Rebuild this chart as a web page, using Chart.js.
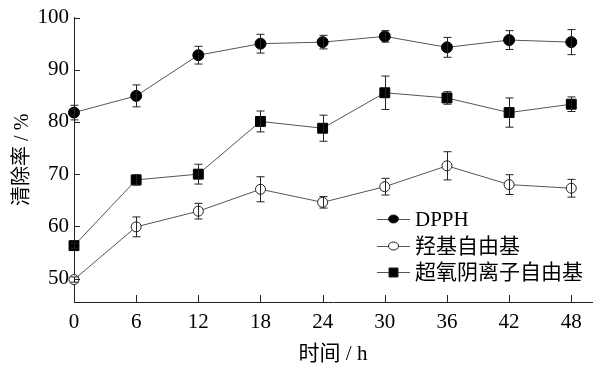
<!DOCTYPE html>
<html>
<head>
<meta charset="utf-8">
<script src="https://cdn.jsdelivr.net/npm/chart.js@4"></script>
<style>
  html, body { margin: 0; padding: 0; background: #fff; }
  #wrap { width: 600px; height: 367px; }
</style>
</head>
<body>
<div id="wrap"><canvas id="myChart" width="600" height="367"></canvas></div>
<script>
// data
const hours = [0, 6, 12, 18, 24, 30, 36, 42, 48];
const xTicks = [0, 6, 12, 18, 24, 30, 36, 42, 48];
const yTicks = [50, 60, 70, 80, 90, 100];

const dpph = [81.8, 85.0, 92.8, 95.0, 95.3, 96.4, 94.3, 95.7, 95.3];
const dpphErr = [1.4, 2.1, 1.7, 1.8, 1.3, 1.1, 1.9, 1.8, 2.4];

const hydroxyl = [49.8, 59.9, 62.9, 67.1, 64.6, 67.6, 71.6, 68.0, 67.3];
const hydroxylErr = [0.5, 1.9, 1.5, 2.4, 1.1, 1.6, 2.7, 1.9, 1.7];

const superoxide = [56.3, 68.9, 70.0, 80.1, 78.8, 85.6, 84.6, 81.8, 83.4];
const superoxideErr = [0.5, 1.0, 1.9, 2.0, 2.5, 3.2, 1.2, 2.8, 1.4];

const seriesNames = ["DPPH", "羟基自由基", "超氧阴离子自由基"];

const FONT = "'Liberation Serif', 'Times New Roman', 'Noto Sans CJK SC', serif";
const INK = "#222";

const toPoints = (vals) => vals.map((v, i) => ({ x: hours[i], y: v }));

// error bars, inward ticks and legend
const extras = {
	id: 'extras',
	afterDatasetsDraw(chart) {
		const ctx = chart.ctx;
		const xs = chart.scales.x;
		const ys = chart.scales.y;
		ctx.save();
		ctx.strokeStyle = INK;
		ctx.lineWidth = 1;

		chart.data.datasets.forEach((ds) => {
			ds.err.forEach((e, i) => {
				const px = Math.round(xs.getPixelForValue(hours[i])) + 0.5;
				const top = ys.getPixelForValue(ds.data[i].y + e);
				const bot = ys.getPixelForValue(ds.data[i].y - e);
				ctx.beginPath();
				ctx.moveTo(px, top); ctx.lineTo(px, bot);
				ctx.moveTo(px - 4, top); ctx.lineTo(px + 4, top);
				ctx.moveTo(px - 4, bot); ctx.lineTo(px + 4, bot);
				ctx.stroke();
			});
		});
		ctx.restore();
	},
	afterDraw(chart) {
		const ctx = chart.ctx;
		const xs = chart.scales.x;
		const ys = chart.scales.y;
		const area = chart.chartArea;
		ctx.save();
		ctx.strokeStyle = INK;
		ctx.lineWidth = 1;
		ctx.beginPath();
		yTicks.forEach((t) => {
			const py = Math.round(ys.getPixelForValue(t)) + 0.5;
			ctx.moveTo(area.left, py); ctx.lineTo(area.left + 6, py);
		});
		xTicks.forEach((t) => {
			const px = Math.round(xs.getPixelForValue(t)) + 0.5;
			ctx.moveTo(px, area.bottom); ctx.lineTo(px, area.bottom - 7);
		});
		ctx.stroke();

		// legend
		const lx = 377, ly = [219, 246, 272];
		ctx.font = "21px " + FONT;
		ctx.textBaseline = 'middle';
		chart.data.datasets.forEach((ds, i) => {
			ctx.strokeStyle = "#555";
			ctx.beginPath();
			ctx.moveTo(lx, ly[i] + 0.5); ctx.lineTo(lx + 33, ly[i] + 0.5);
			ctx.stroke();
			ctx.strokeStyle = INK;
			ctx.fillStyle = ds.pointBackgroundColor;
			ctx.beginPath();
			if (ds.pointStyle === 'rect') {
				ctx.rect(lx + 12, ly[i] - 4, 9, 9);
			} else {
				ctx.ellipse(lx + 16.5, ly[i], 5, 4, 0, 0, Math.PI * 2);
			}
			ctx.fill();
			ctx.stroke();
			ctx.fillStyle = "#000";
			ctx.fillText(ds.label, lx + 38, ly[i] + 1);
		});
		ctx.restore();
	}
};

const ctx = document.getElementById('myChart').getContext('2d');

new Chart(ctx, {
	type: 'line',
	data: {
		datasets: [
			{
				label: seriesNames[0],
				data: toPoints(dpph),
				err: dpphErr,
				borderColor: "#555",
				borderWidth: 1,
				pointStyle: 'circle',
				pointRadius: 5.5,
				pointBackgroundColor: "#000",
				pointBorderColor: "#000",
				pointBorderWidth: 1,
				clip: false
			},
			{
				label: seriesNames[1],
				data: toPoints(hydroxyl),
				err: hydroxylErr,
				borderColor: "#555",
				borderWidth: 1,
				pointStyle: 'circle',
				pointRadius: 5,
				pointBackgroundColor: "#fff",
				pointBorderColor: INK,
				pointBorderWidth: 1,
				clip: false
			},
			{
				label: seriesNames[2],
				data: toPoints(superoxide),
				err: superoxideErr,
				borderColor: "#555",
				borderWidth: 1,
				pointStyle: 'rect',
				pointRadius: 7,
				pointBackgroundColor: "#000",
				pointBorderColor: "#000",
				pointBorderWidth: 1,
				clip: false
			}
		]
	},
	options: {
		responsive: false,
		animation: false,
		devicePixelRatio: 1,
		layout: { padding: { left: 0, top: 11, right: 8, bottom: 0 } },
		plugins: {
			legend: { display: false },
			tooltip: { enabled: false },
			title: { display: false }
		},
		scales: {
			x: {
				type: 'linear',
				min: 0,
				max: 50,
				afterBuildTicks: (axis) => { axis.ticks = xTicks.map((v) => ({ value: v })); },
				afterFit: (axis) => { axis.height = 65; },
				grid: { display: false, drawTicks: false },
				border: { display: true, color: INK, width: 1 },
				ticks: {
					color: "#000",
					padding: 8,
					maxRotation: 0,
					font: { family: FONT, size: 21 }
				},
				title: {
					display: true,
					text: "时间 / h",
					color: "#000",
					padding: { top: 5, bottom: 0 },
					font: { family: FONT, size: 21 }
				}
			},
			y: {
				min: 45.5,
				max: 100,
				afterBuildTicks: (axis) => { axis.ticks = yTicks.map((v) => ({ value: v })); },
				afterFit: (axis) => { axis.width = 74; },
				grid: { display: false, drawTicks: false },
				border: { display: true, color: INK, width: 1 },
				ticks: {
					color: "#000",
					padding: 5,
					font: { family: FONT, size: 21 }
				},
				title: {
					display: true,
					text: "清除率 / %",
					color: "#000",
					padding: { top: 11, bottom: 0 },
					font: { family: FONT, size: 20 }
				}
			}
		}
	},
	plugins: [extras]
});
</script>
</body>
</html>
